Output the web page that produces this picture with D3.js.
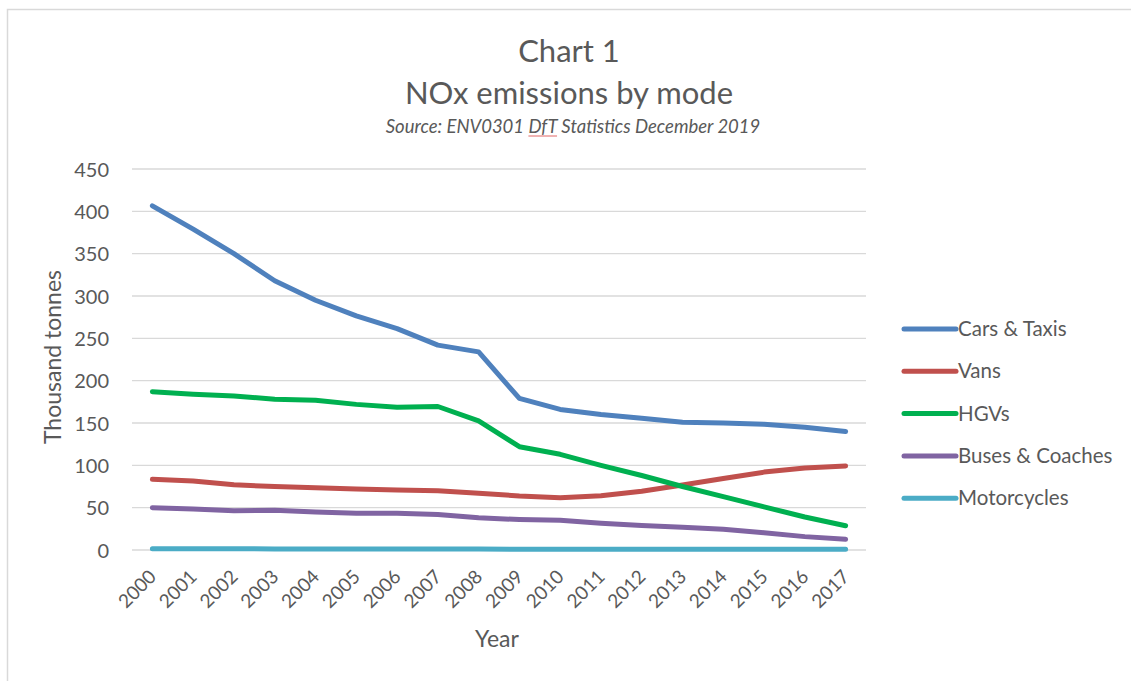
<!DOCTYPE html>
<html>
<head>
<meta charset="utf-8">
<script src="https://cdn.jsdelivr.net/npm/d3@7/dist/d3.min.js"></script>
<style>
  html, body { margin: 0; padding: 0; background: #fff; }
  svg { display: block; }
  text { font-family: Lato, "Open Sans", sans-serif; fill: #595959; }
</style>
</head>
<body>
<svg id="chart" width="1131" height="681"></svg>
<script>
const years = ["2000","2001","2002","2003","2004","2005","2006","2007","2008","2009","2010","2011","2012","2013","2014","2015","2016","2017"];
const seriesNames = ["Cars & Taxis", "Vans", "HGVs", "Buses & Coaches", "Motorcycles"];
const seriesColors = ["#4f81bd", "#c0504d", "#00b050", "#8064a2", "#4bacc6"];
const carsTaxis = [406.5, 379, 350, 318, 295, 276.5, 261.5, 242, 234, 179, 166, 160, 155.5, 151, 150, 148.5, 145, 140];
const vans = [83.5, 81.5, 77, 75, 73.6, 72, 70.9, 70, 67, 63.8, 61.8, 64, 69.5, 76.8, 84.5, 92, 96.8, 99.2];
const hgvs = [187, 184, 182, 178, 177, 172, 168.5, 169.5, 152.5, 122, 113, 100, 88, 75, 63, 51, 39, 28.7];
const buses = [50, 48.4, 46.5, 47, 45, 43.3, 43.3, 42, 38, 36, 35, 31.5, 28.8, 27, 24.4, 20.5, 15.8, 12.6];
const motorcycles = [1.4, 1.4, 1.4, 1.3, 1.3, 1.3, 1.2, 1.2, 1.1, 1.0, 1.0, 0.9, 0.9, 0.9, 0.9, 0.9, 0.9, 0.9];
const yTicks = [0, 50, 100, 150, 200, 250, 300, 350, 400, 450];
const titleLines = ["Chart 1", "NOx emissions by mode"];
const subtitleParts = ["Source: ENV0301 ", "DfT", " Statistics December 2019"];
const xTitle = "Year";
const yTitle = "Thousand tonnes";

const seriesData = [carsTaxis, vans, hgvs, buses, motorcycles];

const svg = d3.select("#chart");
const W = 1131, H = 681;

// outer border
svg.append("rect").attr("x", 7.5).attr("y", 9.5).attr("width", W + 10).attr("height", H + 10)
  .attr("fill", "none").attr("stroke", "#d9d9d9").attr("stroke-width", 1.5);

const plot = { left: 132, right: 866, top: 169, bottom: 550 };

const x = d3.scaleBand().domain(years).range([plot.left, plot.right]);
const y = d3.scaleLinear().domain([0, 450]).range([plot.bottom, plot.top]);

// gridlines
svg.append("g").selectAll("line").data(yTicks).join("line")
  .attr("x1", plot.left).attr("x2", plot.right)
  .attr("y1", d => y(d)).attr("y2", d => y(d))
  .attr("stroke", "#d9d9d9").attr("stroke-width", 1.3);

// y axis labels
const yAxis = d3.axisLeft(y).tickValues(yTicks).tickSize(0).tickPadding(0);
const gy = svg.append("g").attr("transform", `translate(${plot.left - 23},0)`).call(yAxis);
gy.select(".domain").remove();
gy.selectAll("text").attr("font-size", 20).attr("dy", "0.35em").style("font-family", "Lato, sans-serif").attr("fill", "#595959");

// x axis labels
const xAxis = d3.axisBottom(x).tickSize(0).tickPadding(0);
const gx = svg.append("g").attr("transform", `translate(0,${plot.bottom})`).call(xAxis);
gx.select(".domain").remove();
gx.selectAll("text")
  .attr("font-size", 19)
  .attr("text-anchor", "end")
  .attr("dy", null)
  .attr("y", 0)
  .attr("transform", "translate(5,28) rotate(-45)")
  .style("font-family", "Lato, sans-serif")
  .attr("fill", "#595959");

// lines
const line = d3.line().x((d, i) => x(years[i]) + x.bandwidth() / 2).y(d => y(d));
svg.append("g").selectAll("path").data(seriesData).join("path")
  .attr("d", d => line(d))
  .attr("fill", "none")
  .attr("stroke", (d, i) => seriesColors[i])
  .attr("stroke-width", 5)
  .attr("stroke-linecap", "round")
  .attr("stroke-linejoin", "round");

// titles
const cx = 569;
svg.append("text").attr("x", cx).attr("y", 62).attr("text-anchor", "middle").attr("font-size", 31).text(titleLines[0]);
svg.append("text").attr("x", cx).attr("y", 104).attr("text-anchor", "middle").attr("font-size", 31).text(titleLines[1]);
const sub = svg.append("text").attr("x", 573).attr("y", 133).attr("text-anchor", "middle").attr("font-size", 18.5).attr("font-style", "italic");
sub.append("tspan").text(subtitleParts[0]);
const dft = sub.append("tspan").text(subtitleParts[1]);
sub.append("tspan").text(subtitleParts[2]);
// spell-check squiggle under "DfT"
const bb = dft.node().getBBox ? null : null;
{
  const tnode = sub.node();
  const start = tnode.getStartPositionOfChar(subtitleParts[0].length);
  const end = tnode.getEndPositionOfChar(subtitleParts[0].length + subtitleParts[1].length - 1);
  svg.append("line").attr("x1", start.x).attr("x2", end.x).attr("y1", 136).attr("y2", 136)
    .attr("stroke", "#e06666").attr("stroke-width", 1);
}

// axis titles
svg.append("text").attr("x", 497).attr("y", 647).attr("text-anchor", "middle").attr("font-size", 23).text(xTitle);
svg.append("text").attr("transform", "translate(61,357) rotate(-90)").attr("text-anchor", "middle").attr("font-size", 23).text(yTitle);

// legend
const legend = svg.append("g").selectAll("g").data(seriesNames).join("g")
  .attr("transform", (d, i) => `translate(904,${329 + i * 42.3})`);
legend.append("line").attr("x1", 0).attr("x2", 52).attr("y1", 0).attr("y2", 0)
  .attr("stroke", (d, i) => seriesColors[i]).attr("stroke-width", 5).attr("stroke-linecap", "round");
legend.append("text").attr("x", 54).attr("y", 0).attr("dy", "0.35em").attr("font-size", 20.5).text(d => d);
</script>
</body>
</html>
